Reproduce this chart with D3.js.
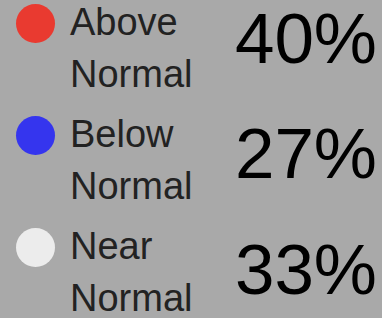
<!DOCTYPE html>
<html>
<head>
<meta charset="utf-8">
<script src="https://d3js.org/d3.v7.min.js"></script>
<style>
  body { margin: 0; background: #a9a9a9; }
  svg { display: block; }
</style>
</head>
<body>
<div id="legend"></div>
<script>
// Categories, values (percent) and their swatch colours
var categories = ["Above", "Below", "Near"];
var values = [40, 27, 33];
var colors = ["#e93a30", "#3535ee", "#ececec"];

var width = 382, height = 318;

var svg = d3.select("#legend")
  .append("svg")
    .attr("width", width)
    .attr("height", height);

svg.append("rect")
  .attr("width", width)
  .attr("height", height)
  .attr("fill", "#a9a9a9");

// one row per category (swatch + label)
var y = d3.scaleBand()
  .domain(categories)
  .range([-32.5, 303.5]);

// percentage column sits on a slightly looser grid
var yPct = d3.scaleBand()
  .domain(categories)
  .range([-52.75, 293.75]);

var font = "'Liberation Sans', Arial, sans-serif";

var rows = svg.selectAll("g.row")
  .data(categories)
  .enter()
  .append("g")
    .attr("class", "row")
    .attr("transform", function(d) { return "translate(0," + (y(d) + y.bandwidth() / 2) + ")"; });

rows.append("circle")
  .attr("cx", 35.5)
  .attr("cy", 0)
  .attr("r", 19.5)
  .attr("fill", function(d, i) { return colors[i]; });

var label = rows.append("text")
  .attr("x", 70)
  .attr("y", 11.5)
  .style("font-family", font)
  .style("font-size", "38px")
  .attr("fill", "#222");

label.append("tspan")
  .attr("x", 70)
  .text(function(d) { return d; });
label.append("tspan")
  .attr("x", 70)
  .attr("dy", 51.5)
  .text("Normal");

svg.selectAll("text.pct")
  .data(categories)
  .enter()
  .append("text")
    .attr("class", "pct")
    .attr("x", 377)
    .attr("y", function(d) { return yPct(d) + yPct.bandwidth(); })
    .attr("text-anchor", "end")
    .style("font-family", font)
    .style("font-size", "71px")
    .attr("fill", "#000")
    .text(function(d, i) { return values[i] + "%"; });
</script>
</body>
</html>
